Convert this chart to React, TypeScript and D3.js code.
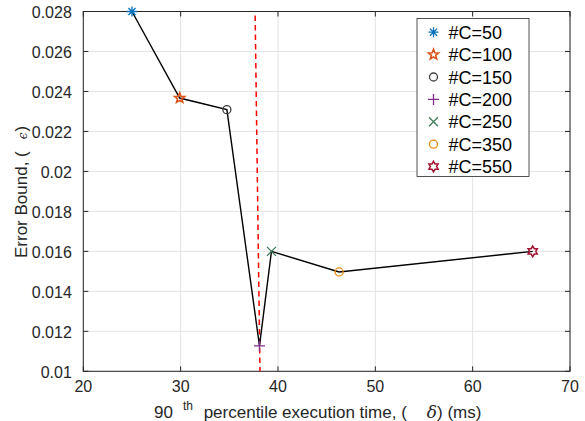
import React from "react";
import * as d3 from "d3";

const labels = ["#C=50", "#C=100", "#C=150", "#C=200", "#C=250", "#C=350", "#C=550"];
const execTime = [25, 29.9, 34.75, 38.1, 39.33, 46.28, 66.17];
const errorBound = [0.028, 0.02367, 0.02309, 0.01127, 0.016, 0.01497, 0.016];
const markerTypes = ["asterisk", "pentagram", "circle", "plus", "x", "circle", "hexagram"];
const markerColors = ["#0072BD", "#D95319", "#404040", "#7E2F8E", "#3D7D5B", "#E8890C", "#A2142F"];
const xTicks = [20, 30, 40, 50, 60, 70];
const yTicks = [0.01, 0.012, 0.014, 0.016, 0.018, 0.02, 0.022, 0.024, 0.026, 0.028];
const thresholdX = [37.65, 38.15];
const thresholdY = [0.028, 0.01];

const W = 585, H = 421;
const L = 83.3, R = 570, T = 11.5, B = 371.3;
const AX = "#262626";
const GRID = "#e3e3e3";
const FONT = "'Liberation Sans', Arial, Helvetica, sans-serif";

function starPath(n: number, ro: number, ri: number): string {
  const pts: [number, number][] = [];
  for (let i = 0; i < 2 * n; i++) {
    const a = -Math.PI / 2 + (i * Math.PI) / n;
    const r = i % 2 === 0 ? ro : ri;
    pts.push([r * Math.cos(a), r * Math.sin(a)]);
  }
  return "M" + pts.map((p) => p[0].toFixed(2) + "," + p[1].toFixed(2)).join("L") + "Z";
}

function Marker({ type, color, x, y }: { type: string; color: string; x: number; y: number }) {
  const sw = 1.3;
  let el: React.ReactNode = null;
  if (type === "circle") {
    el = <circle r={4} fill="none" stroke={color} strokeWidth={sw} />;
  } else if (type === "plus") {
    el = <path d="M-5.5,0H5.5M0,-5.5V5.5" stroke={color} strokeWidth={sw} fill="none" />;
  } else if (type === "x") {
    el = <path d="M-4.5,-4.5L4.5,4.5M-4.5,4.5L4.5,-4.5" stroke={color} strokeWidth={sw} fill="none" />;
  } else if (type === "asterisk") {
    const r = 5;
    const d = d3.range(4).map((i) => {
      const a = (i * Math.PI) / 4;
      return `M${(-r * Math.cos(a)).toFixed(2)},${(-r * Math.sin(a)).toFixed(2)}L${(r * Math.cos(a)).toFixed(2)},${(r * Math.sin(a)).toFixed(2)}`;
    }).join("");
    el = <path d={d} stroke={color} strokeWidth={sw} fill="none" />;
  } else if (type === "pentagram") {
    el = <path d={starPath(5, 5.3, 2.3)} stroke={color} strokeWidth={1.6} fill="none" strokeLinejoin="miter" />;
  } else if (type === "hexagram") {
    el = <path d={starPath(6, 5.3, 3.1)} stroke={color} strokeWidth={1.5} fill="none" />;
  }
  return <g transform={`translate(${x},${y})`}>{el}</g>;
}

export default function App() {
  const x = d3.scaleLinear().domain([20, 70]).range([L, R]);
  const y = d3.scaleLinear().domain([0.01, 0.028]).range([B, T]);
  const line = d3.line<number>().x((_, i) => x(execTime[i])).y((_, i) => y(errorBound[i]));
  const fmt = (v: number) => String(+v.toFixed(3));

  const legX = 417, legY = 18.5, legW = 112, legH = 158;
  const rowY0 = 32.2, rowDy = 22.4;

  return (
    <svg width={W} height={H} style={{ position: "absolute", left: 0, top: 0, background: "#fff" }} fontFamily={FONT}>
      <rect x={0} y={0} width={W} height={H} fill="#fff" />
      {xTicks.map((t) => (
        <line key={"gx" + t} x1={x(t)} x2={x(t)} y1={T} y2={B} stroke={GRID} strokeWidth={1} />
      ))}
      {yTicks.map((t) => (
        <line key={"gy" + t} x1={L} x2={R} y1={y(t)} y2={y(t)} stroke={GRID} strokeWidth={1} />
      ))}
      <rect x={L} y={T} width={R - L} height={B - T} fill="none" stroke={AX} strokeWidth={1} />
      {xTicks.map((t) => (
        <g key={"tx" + t}>
          <line x1={x(t)} x2={x(t)} y1={B} y2={B - 5} stroke={AX} />
          <line x1={x(t)} x2={x(t)} y1={T} y2={T + 5} stroke={AX} />
          <text x={x(t)} y={B + 21} fontSize={16} textAnchor="middle" fill={AX}>{t}</text>
        </g>
      ))}
      {yTicks.map((t) => (
        <g key={"ty" + t}>
          <line x1={L} x2={L + 5} y1={y(t)} y2={y(t)} stroke={AX} />
          <line x1={R} x2={R - 5} y1={y(t)} y2={y(t)} stroke={AX} />
          <text x={L - 11.5} y={y(t) + 6.5} fontSize={16} textAnchor="end" fill={AX}>{fmt(t)}</text>
        </g>
      ))}
      <line x1={x(thresholdX[0])} y1={y(thresholdY[0])} x2={x(thresholdX[1])} y2={y(thresholdY[1])}
        stroke="#ff0000" strokeWidth={1.5} strokeDasharray="5.5 4" strokeDashoffset={5.5} />
      <path d={line(d3.range(execTime.length)) || ""} fill="none" stroke="#000" strokeWidth={1.4} />
      {execTime.map((v, i) => (
        <Marker key={"m" + i} type={markerTypes[i]} color={markerColors[i]} x={x(v)} y={y(errorBound[i])} />
      ))}
      <rect x={legX} y={legY} width={legW} height={legH} fill="#fff" stroke={AX} strokeWidth={0.8} />
      {labels.map((lab, i) => (
        <g key={"l" + i}>
          <Marker type={markerTypes[i]} color={markerColors[i]} x={433.5} y={rowY0 + i * rowDy} />
          <text x={448.5} y={rowY0 + i * rowDy + 6.5} fontSize={18} fill="#000">{lab}</text>
        </g>
      ))}
      <text x={154} y={418} fontSize={17} fill={AX}>
        {"90"}
        <tspan dx={10} dy={-8} fontSize={12}>th</tspan>
        <tspan dx={6} dy={8} fontSize={17}>{" percentile execution time, ("}</tspan>
        <tspan dx={20} fontStyle="italic" fontFamily="'DejaVu Serif', serif">δ</tspan>
        <tspan>{") (ms)"}</tspan>
      </text>
      <text transform="translate(26.5,258) rotate(-90)" fontSize={17} fill={AX}>
        {"Error Bound, ("}
        <tspan dx={12} fontSize={12} fontStyle="italic" fontFamily="'DejaVu Serif', serif">ϵ</tspan>
        <tspan dx={1}>{")"}</tspan>
      </text>
    </svg>
  );
}
